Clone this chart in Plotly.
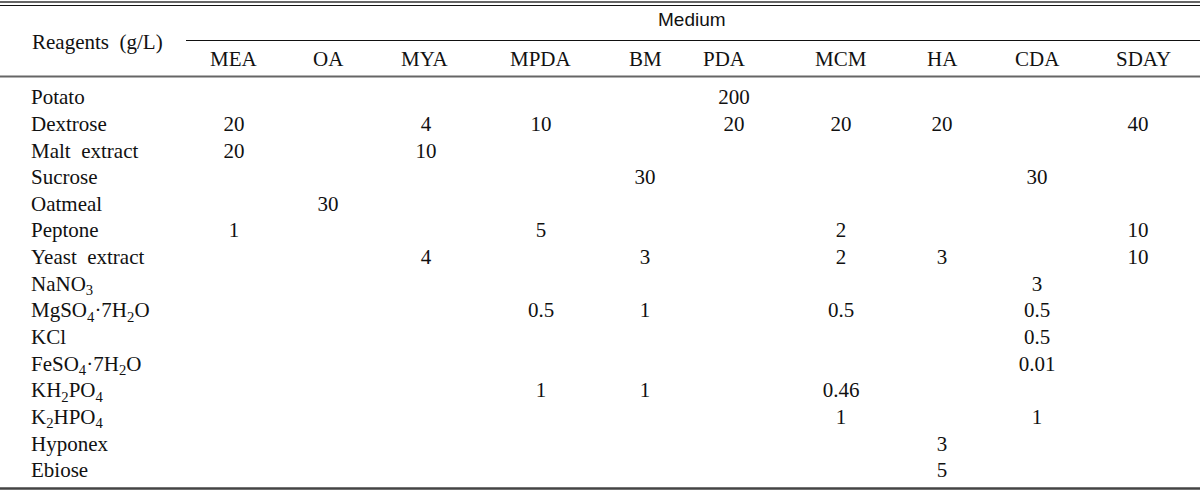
import plotly.graph_objects as go

# ---- data ----
reagents = ["Potato", "Dextrose", "Malt\u00a0\u00a0extract", "Sucrose", "Oatmeal", "Peptone",
            "Yeast\u00a0\u00a0extract", "NaNO<sub>3</sub>", "MgSO<sub>4</sub>·7H<sub>2</sub>O", "KCl",
            "FeSO<sub>4</sub>·7H<sub>2</sub>O", "KH<sub>2</sub>PO<sub>4</sub>", "K<sub>2</sub>HPO<sub>4</sub>",
            "Hyponex", "Ebiose"]
media = ["MEA", "OA", "MYA", "MPDA", "BM", "PDA", "MCM", "HA", "CDA", "SDAY"]

MEA  = [None, "20", "20", None, None, "1", None, None, None, None, None, None, None, None, None]
OA   = [None, None, None, None, "30", None, None, None, None, None, None, None, None, None, None]
MYA  = [None, "4", "10", None, None, None, "4", None, None, None, None, None, None, None, None]
MPDA = [None, "10", None, None, None, "5", None, None, "0.5", None, None, "1", None, None, None]
BM   = [None, None, None, "30", None, None, "3", None, "1", None, None, "1", None, None, None]
PDA  = ["200", "20", None, None, None, None, None, None, None, None, None, None, None, None, None]
MCM  = [None, "20", None, None, None, "2", "2", None, "0.5", None, None, "0.46", "1", None, None]
HA   = [None, "20", None, None, None, None, "3", None, None, None, None, None, None, "3", "5"]
CDA  = [None, None, None, "30", None, None, None, "3", "0.5", "0.5", "0.01", None, "1", None, None]
SDAY = [None, "40", None, None, None, "10", "10", None, None, None, None, None, None, None, None]
columns = [MEA, OA, MYA, MPDA, BM, PDA, MCM, HA, CDA, SDAY]

# ---- layout settings ----
W, H = 1200, 491
col_x = [234, 328, 426, 541, 645, 734, 841, 942, 1037, 1138]
FONT = "Liberation Serif"
FS = 21
COLOR = "#111111"

xs, ys, ts = [], [], []
for ci, col in enumerate(columns):
    for ri, v in enumerate(col):
        if v is not None:
            xs.append(col_x[ci]); ys.append(ri); ts.append(v)

fig = go.Figure()
fig.add_trace(go.Scatter(x=xs, y=ys, text=ts, mode="text", textposition="middle center",
                         textfont=dict(family=FONT, size=FS, color=COLOR), hoverinfo="skip",
                         showlegend=False))

# row labels
fig.add_trace(go.Scatter(x=[31] * len(reagents), y=list(range(len(reagents))), text=reagents,
                         mode="text", textposition="middle right",
                         textfont=dict(family=FONT, size=FS, color=COLOR), hoverinfo="skip",
                         showlegend=False))

def py(px):
    return 1 - px / H

ann = []
ann.append(dict(x=30 / W, y=py(42), xref="paper", yref="paper", text="Reagents\u00a0\u00a0(g/L)",
                showarrow=False, xanchor="left", yanchor="middle",
                font=dict(family=FONT, size=FS, color=COLOR)))
ann.append(dict(x=692 / W, y=py(20), xref="paper", yref="paper", text="Medium",
                showarrow=False, xanchor="center", yanchor="middle",
                font=dict(family="Liberation Sans", size=19, color=COLOR)))
header_x = [234, 328, 425, 541, 645, 724, 841, 942, 1037, 1143]
for m, hx in zip(media, header_x):
    ann.append(dict(x=hx / W, y=py(59), xref="paper", yref="paper", text=m,
                    showarrow=False, xanchor="center", yanchor="middle",
                    font=dict(family=FONT, size=FS, color=COLOR)))

shapes = [
    dict(type="line", xref="paper", yref="paper", x0=0, x1=1, y0=py(2), y1=py(2),
         line=dict(color="#666666", width=2)),
    dict(type="line", xref="paper", yref="paper", x0=0, x1=1, y0=py(5.5), y1=py(5.5),
         line=dict(color="#111111", width=1.2)),
    dict(type="line", xref="paper", yref="paper", x0=186 / W, x1=1, y0=py(40.5), y1=py(40.5),
         line=dict(color="#111111", width=1.2)),
    dict(type="line", xref="paper", yref="paper", x0=0, x1=1, y0=py(76.5), y1=py(76.5),
         line=dict(color="#666666", width=2.2)),
    dict(type="line", xref="paper", yref="paper", x0=0, x1=1, y0=py(488.5), y1=py(488.5),
         line=dict(color="#444444", width=2.5)),
]

fig.update_layout(
    width=W, height=H, margin=dict(l=0, r=0, t=0, b=0),
    paper_bgcolor="white", plot_bgcolor="white",
    xaxis=dict(range=[0, W], visible=False, fixedrange=True),
    yaxis=dict(range=[14.712, -3.716], visible=False, fixedrange=True),
    annotations=ann, shapes=shapes, showlegend=False,
)

fig.write_html("out.html", config={"displayModeBar": False},
               post_script="document.body.style.margin='0px';document.body.style.overflow='hidden';")
